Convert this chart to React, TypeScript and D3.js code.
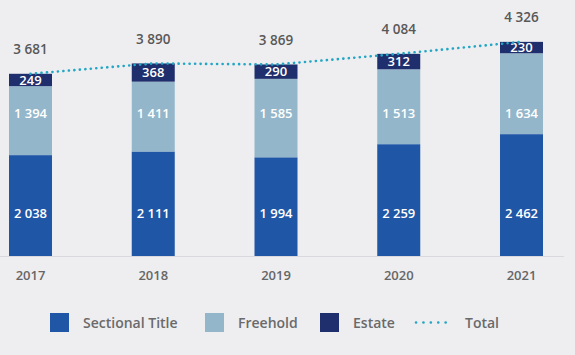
import React from "react";
import * as d3 from "d3";

const years = ["2017", "2018", "2019", "2020", "2021"];
const sectional = [2038, 2111, 1994, 2259, 2462];
const freehold = [1394, 1411, 1585, 1513, 1634];
const estate = [249, 368, 290, 312, 230];
const totals = [3681, 3890, 3869, 4084, 4326];
const seriesNames = ["Sectional Title", "Freehold", "Estate"];
const seriesColors = ["#1f56a6", "#93b6ca", "#1f2e6c"];
const totalColor = "#23a6c4";

const W = 575, H = 355;
const FONT = "'Open Sans', sans-serif";
const fmt = d3.formatLocale({ thousands: "\u00a0", grouping: [3], decimal: ".", currency: ["", ""] }).format(",d");

export default function App() {
  const x = d3.scalePoint<string>().domain(years).range([30.5, 521.5]);
  const baseline = 256;
  const y = d3.scaleLinear().domain([0, 5000]).range([baseline, baseline - 5000 * 0.0495]);
  const barW = 43;

  const rows = years.map((yr, i) => ({ year: yr, Sectional: sectional[i], Freehold: freehold[i], Estate: estate[i] }));
  const stack = d3.stack<any>().keys(["Sectional", "Freehold", "Estate"])(rows);

  const line = d3.line<number>().x((_, i) => x(years[i])!).y((d) => y(d));

  // label vertical placement: first two series share a fixed row, estate tracks its segment
  const fixedLabelY = [213, 113, null];

  const legendItems = [
    { type: "rect", color: seriesColors[0], label: seriesNames[0], sx: 50, tx: 83 },
    { type: "rect", color: seriesColors[1], label: seriesNames[1], sx: 205, tx: 238 },
    { type: "rect", color: seriesColors[2], label: seriesNames[2], sx: 320, tx: 353 },
    { type: "line", color: totalColor, label: "Total", sx: 415, tx: 465 },
  ];

  return (
    <svg width={W} height={H} style={{ position: "fixed", left: 0, top: 0 }} fontFamily={FONT}>
      <rect x={0} y={0} width={W} height={H} fill="#eeeef1" />
      <line x1={0} x2={564} y1={baseline + 0.5} y2={baseline + 0.5} stroke="#d9d9dd" strokeWidth={1} />
      {stack.map((layer, li) => (
        <g key={li}>
          {layer.map((d, i) => {
            const ly = fixedLabelY[li] ?? (y(d[0]) + y(d[1])) / 2;
            return (
              <g key={i}>
                <rect x={x(years[i])! - barW / 2} width={barW} y={y(d[1])} height={y(d[0]) - y(d[1])} fill={seriesColors[li]} />
                <text x={x(years[i])!} y={ly} dy="0.36em" textAnchor="middle" fill="#ffffff" fontSize={13} fontWeight={600}>
                  {fmt(d[1] - d[0])}
                </text>
              </g>
            );
          })}
        </g>
      ))}
      <path d={line(totals) || ""} fill="none" stroke={totalColor} strokeWidth={2.6} strokeLinecap="round" strokeDasharray="0.1 5.4" />
      {totals.map((t, i) => (
        <text key={i} x={x(years[i])!} y={y(t) - 24.5} dy="0.36em" textAnchor="middle" fill="#585858" fontSize={13.5} fontWeight={600}>
          {fmt(t)}
        </text>
      ))}
      {years.map((yr) => (
        <text key={yr} x={x(yr)!} y={275.5} dy="0.36em" textAnchor="middle" fill="#666666" fontSize={13} fontWeight={600}>
          {yr}
        </text>
      ))}
      {legendItems.map((it) => (
        <g key={it.label}>
          {it.type === "rect" ? (
            <rect x={it.sx} y={313} width={19} height={19} fill={it.color} />
          ) : (
            <line x1={it.sx + 1} x2={it.sx + 38} y1={322.5} y2={322.5} stroke={it.color} strokeWidth={2.6} strokeLinecap="round" strokeDasharray="0.1 7.3" />
          )}
          <text x={it.tx} y={322.5} dy="0.36em" fill="#6a6a6a" fontSize={14} fontWeight={600}>
            {it.label}
          </text>
        </g>
      ))}
    </svg>
  );
}
